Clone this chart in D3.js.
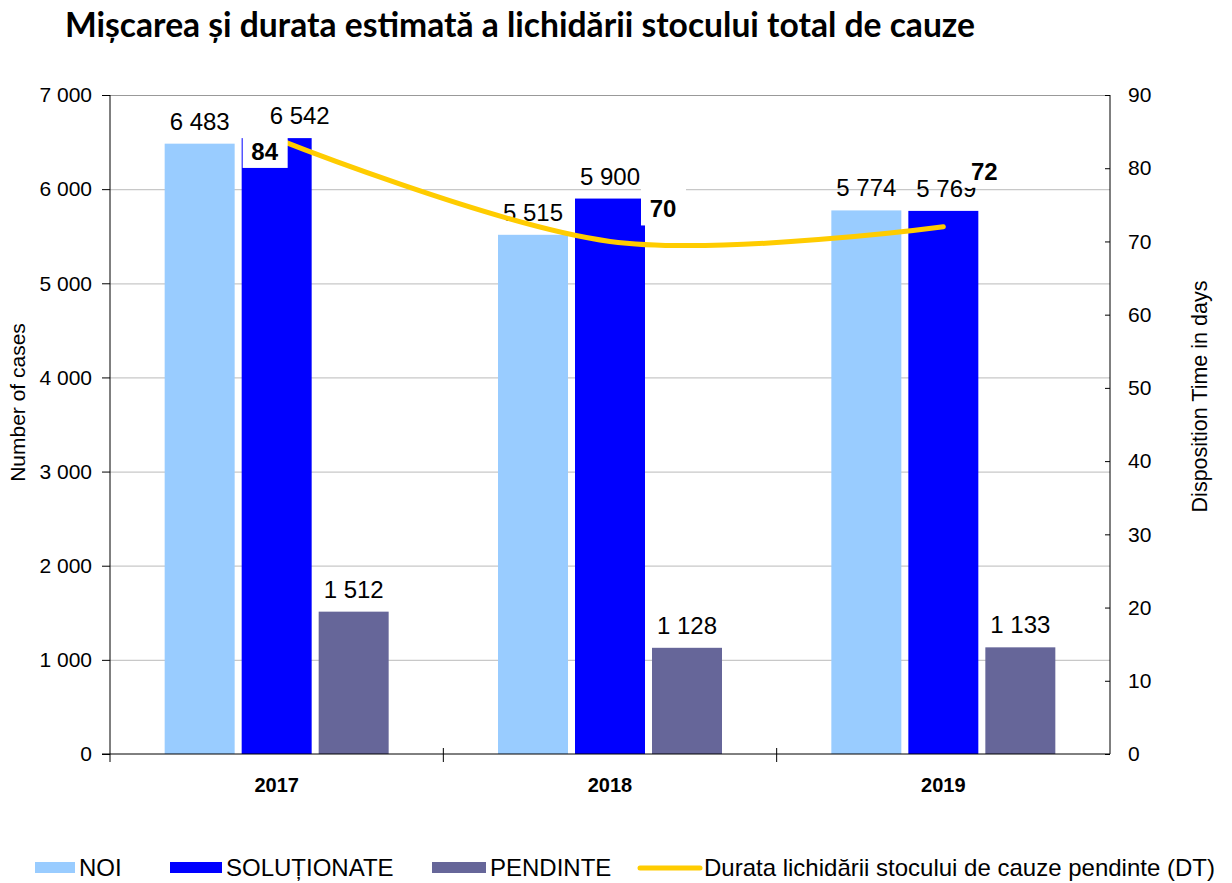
<!DOCTYPE html>
<html>
<head>
<meta charset="utf-8">
<script src="https://cdn.jsdelivr.net/npm/d3@7"></script>
<style>
  body { margin: 0; background: #fff; }
  text { font-family: 'Liberation Sans', Arial, sans-serif; }
</style>
</head>
<body>
<svg id="chart"></svg>
<script>
// data
const years = ['2017', '2018', '2019'];
const seriesNames = ['NOI', 'SOLUȚIONATE', 'PENDINTE'];
const noi = [6483, 5515, 5774];
const solutionate = [6542, 5900, 5769];
const pendinte = [1512, 1128, 1133];
const dt = [84, 70, 72];
const leftTicks = [0, 1000, 2000, 3000, 4000, 5000, 6000, 7000];
const rightTicks = [0, 10, 20, 30, 40, 50, 60, 70, 80, 90];

// colors
const colors = ['#99ccff', '#0000ff', '#666699'];
const lineColor = '#ffcc00';

const width = 1232;
const height = 883;
const plot = { left: 110, right: 1110, top: 95, bottom: 754 };

const fmt = d3.formatLocale({ decimal: ',', thousands: ' ', grouping: [3], currency: ['', ''] }).format(',d');

const svg = d3.select('#chart')
    .attr('width', width)
    .attr('height', height);

// title, sized to span the same width as the original
const title = svg.append('text')
    .attr('x', 65)
    .attr('y', 37)
    .style('font-family', 'Lato, sans-serif')
    .style('font-weight', 'bold')
    .style('font-size', '30px')
    .text('Mișcarea și durata estimată a lichidării stocului total de cauze');
const tw = title.node().getComputedTextLength();
title.style('font-size', (30 * 910 / tw) + 'px');

const x = d3.scaleBand()
    .domain(years)
    .range([plot.left, plot.right]);

const xs = d3.scaleBand()
    .domain(seriesNames)
    .range([0, x.bandwidth()])
    .paddingInner(0.091)
    .paddingOuter(0.71);

const y = d3.scaleLinear().domain([0, 7000]).range([plot.bottom, plot.top]);
const y2 = d3.scaleLinear().domain([0, 90]).range([plot.bottom, plot.top]);

// gridlines
svg.append('g')
    .selectAll('line')
    .data(leftTicks.slice(1))
    .enter()
    .append('line')
        .attr('x1', plot.left)
        .attr('x2', plot.right)
        .attr('y1', d => y(d) + 0.5)
        .attr('y2', d => y(d) + 0.5)
        .attr('stroke', d => d === 7000 ? '#999' : '#c8c8c8')
        .attr('stroke-width', 1.2);

// bars
const seriesValues = [noi, solutionate, pendinte];
const barData = [];
years.forEach((yr, i) => {
    seriesNames.forEach((s, j) => {
        barData.push({ year: yr, series: s, idx: j, value: seriesValues[j][i] });
    });
});

svg.append('g')
    .selectAll('rect')
    .data(barData)
    .enter()
    .append('rect')
        .attr('x', d => x(d.year) + xs(d.series))
        .attr('y', d => y(d.value))
        .attr('width', xs.bandwidth())
        .attr('height', d => y(0) - y(d.value))
        .attr('fill', d => colors[d.idx]);

// value labels
svg.append('g')
    .selectAll('text')
    .data(barData)
    .enter()
    .append('text')
        .attr('x', d => x(d.year) + xs(d.series) + xs.bandwidth() / 2 + (d.year === '2017' && d.idx === 1 ? 23 : (d.year === '2019' && d.idx === 1 ? 3 : 0)))
        .attr('y', d => y(d.value) - 14)
        .attr('text-anchor', 'middle')
        .style('font-size', '24px')
        .text(d => fmt(d.value));

// axes
const leftAxis = d3.axisLeft(y)
    .tickValues(leftTicks)
    .tickFormat(fmt)
    .tickSize(8)
    .tickPadding(10);
const gl = svg.append('g')
    .attr('transform', `translate(${plot.left},0)`)
    .call(leftAxis);
gl.select('.domain').attr('d', `M0,${plot.top}V${plot.bottom}`);
gl.selectAll('text').style('font-size', '21px').attr('fill', '#000');

const rightAxis = d3.axisRight(y2)
    .tickValues(rightTicks)
    .tickSize(-5)
    .tickPadding(18);
const gr = svg.append('g')
    .attr('transform', `translate(${plot.right},0)`)
    .call(rightAxis);
gr.select('.domain').attr('d', `M0,${plot.top}V${plot.bottom}`);
gr.selectAll('text').style('font-size', '21px').attr('fill', '#000');

const xAxis = d3.axisBottom(x).tickSize(0).tickPadding(24);
const gx = svg.append('g')
    .attr('transform', `translate(0,${plot.bottom})`)
    .call(xAxis);
gx.select('.domain').attr('d', `M${plot.left - 8},0H${plot.right}`);
gx.selectAll('text')
    .style('font-size', '20px')
    .style('font-weight', 'bold')
    .attr('fill', '#000');

// category separators
gx.selectAll('.sep')
    .data(years.slice(1))
    .enter()
    .append('line')
        .attr('x1', d => x(d))
        .attr('x2', d => x(d))
        .attr('y1', -6)
        .attr('y2', 8)
        .attr('stroke', '#000');
gx.append('line')
    .attr('x1', plot.left).attr('x2', plot.left)
    .attr('y1', 0).attr('y2', 8)
    .attr('stroke', '#000');

// axis titles
svg.append('text')
    .attr('transform', `translate(25,${(plot.top + plot.bottom) / 2 - 22}) rotate(-90)`)
    .attr('text-anchor', 'middle')
    .style('font-size', '21px')
    .text('Number of cases');

svg.append('text')
    .attr('transform', `translate(1207,${(plot.top + plot.bottom) / 2 - 28}) rotate(-90)`)
    .attr('text-anchor', 'middle')
    .style('font-size', '21.5px')
    .text('Disposition Time in days');

// DT line
const line = d3.line()
    .x((d, i) => x(years[i]) + x.bandwidth() / 2)
    .y(d => y2(d))
    .curve(d3.curveCardinal);

svg.append('path')
    .datum(dt)
    .attr('d', line)
    .attr('fill', 'none')
    .attr('stroke', lineColor)
    .attr('stroke-width', 5)
    .attr('stroke-linecap', 'round');

// DT labels (offsets from each point)
const dtOffsets = [[-12, 21], [53, -24], [41, -47]];
const dtg = svg.append('g')
    .selectAll('g')
    .data(dt)
    .enter()
    .append('g')
        .attr('transform', (d, i) => `translate(${x(years[i]) + x.bandwidth() / 2 + dtOffsets[i][0]},${y2(d) + dtOffsets[i][1]})`);
dtg.append('rect')
    .attr('x', -22)
    .attr('y', -32)
    .attr('width', 45)
    .attr('height', 40)
    .attr('fill', '#fff');
dtg.append('text')
    .attr('text-anchor', 'middle')
    .style('font-size', '24px')
    .style('font-weight', 'bold')
    .text(d => d);

// legend
const legendItems = [
    { label: 'NOI', color: colors[0], x: 35, w: 40, type: 'rect' },
    { label: 'SOLUȚIONATE', color: colors[1], x: 170, w: 52, type: 'rect' },
    { label: 'PENDINTE', color: colors[2], x: 432, w: 54, type: 'rect' },
    { label: 'Durata lichidării stocului de cauze pendinte (DT)', color: lineColor, x: 640, w: 60, type: 'line' }
];
const lg = svg.append('g')
    .selectAll('g')
    .data(legendItems)
    .enter()
    .append('g')
        .attr('transform', d => `translate(${d.x},868)`);
lg.filter(d => d.type === 'rect')
    .append('rect')
        .attr('y', -6)
        .attr('width', d => d.w)
        .attr('height', 11)
        .attr('fill', d => d.color);
lg.filter(d => d.type === 'line')
    .append('line')
        .attr('x2', d => d.w)
        .attr('stroke', d => d.color)
        .attr('stroke-width', 5)
        .attr('stroke-linecap', 'round');
lg.append('text')
    .attr('x', d => d.w + 4)
    .attr('y', 8)
    .style('font-size', '24px')
    .text(d => d.label);
</script>
</body>
</html>
